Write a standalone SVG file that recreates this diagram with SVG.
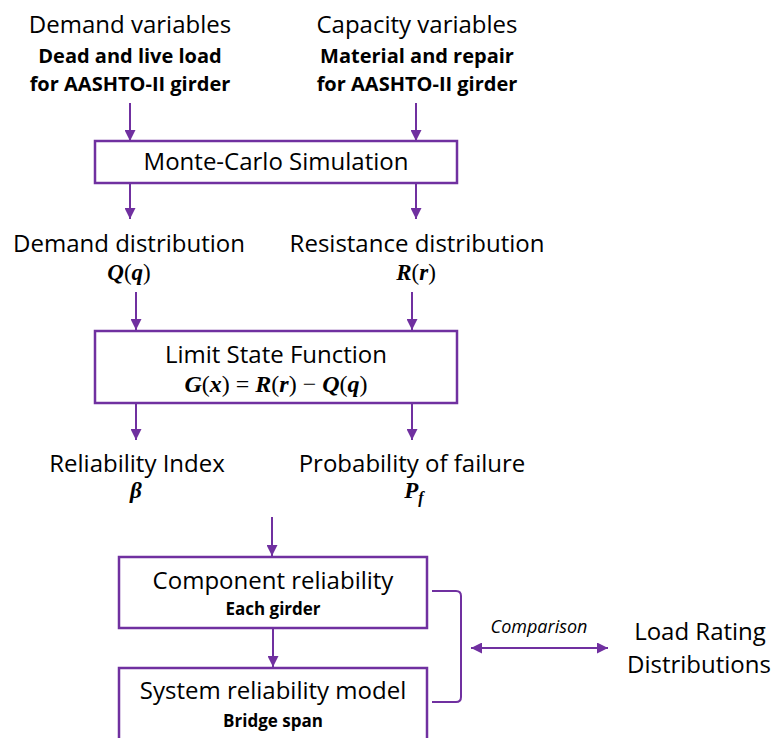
<svg xmlns="http://www.w3.org/2000/svg" width="773" height="738" viewBox="0 0 773 738">
<style>
.t{font-family:"Open Sans","Liberation Sans",sans-serif;fill:#000;text-anchor:middle}
.r{font-size:24px}
.b{font-size:20px;font-weight:bold}
.m{font-family:"Liberation Serif","DejaVu Serif",serif;font-size:23px;fill:#000;text-anchor:middle}
.mi{font-style:italic;font-weight:bold}
.box{fill:#fff;stroke:#7030A0;stroke-width:2.5}
.c{stroke:#7030A0;stroke-width:2;fill:none}
</style>
<defs>
<marker id="ah" viewBox="0 0 10 10" refX="10" refY="5" markerWidth="11" markerHeight="11" markerUnits="userSpaceOnUse" orient="auto-start-reverse">
<path d="M0,0 L10,5 L0,10 Z" fill="#7030A0"/>
</marker>
</defs>
<rect width="773" height="738" fill="#fff"/>

<g id="demand-vars">
<text class="t r" x="130" y="33">Demand variables</text>
<text class="t b" x="130" y="63">Dead and live load</text>
<text class="t b" x="130" y="91">for AASHTO-II girder</text>
</g>
<g id="capacity-vars">
<text class="t r" x="417" y="33">Capacity variables</text>
<text class="t b" x="417" y="63">Material and repair</text>
<text class="t b" x="417" y="91">for AASHTO-II girder</text>
</g>
<g id="monte-carlo">
<rect class="box" x="95" y="141" width="362" height="42"/>
<text class="t r" x="276" y="170">Monte-Carlo Simulation</text>
</g>
<g id="demand-dist">
<text class="t r" x="129" y="252">Demand distribution</text>
<text class="m" x="129" y="280"><tspan class="mi">Q</tspan>(<tspan class="mi">q</tspan>)</text>
</g>
<g id="resistance-dist">
<text class="t r" x="417" y="252">Resistance distribution</text>
<text class="m" x="416" y="280"><tspan class="mi">R</tspan>(<tspan class="mi">r</tspan>)</text>
</g>
<g id="limit-state">
<rect class="box" x="95" y="331" width="362" height="72"/>
<text class="t r" x="276" y="363">Limit State Function</text>
<text class="m" x="276" y="392" style="font-size:24px"><tspan class="mi">G</tspan>(<tspan class="mi">x</tspan>) = <tspan class="mi">R</tspan>(<tspan class="mi">r</tspan>) − <tspan class="mi">Q</tspan>(<tspan class="mi">q</tspan>)</text>
</g>
<g id="reliability-index">
<text class="t r" x="137" y="472">Reliability Index</text>
<text class="m mi" x="136" y="498">β</text>
</g>
<g id="prob-failure">
<text class="t r" x="412" y="472">Probability of failure</text>
<text class="m" x="414" y="498"><tspan class="mi">P</tspan><tspan class="mi" font-size="16" dy="5">f</tspan></text>
</g>
<g id="component">
<rect class="box" x="119" y="557" width="308" height="71"/>
<text class="t r" x="273" y="589">Component reliability</text>
<text class="t b" x="273" y="615" style="font-size:17px">Each girder</text>
</g>
<g id="system">
<rect class="box" x="119" y="668" width="308" height="80"/>
<text class="t r" x="273" y="699">System reliability model</text>
<text class="t b" x="273" y="727" style="font-size:17px">Bridge span</text>
</g>
<g id="load-rating">
<text class="t r" x="700" y="640">Load Rating</text>
<text class="t r" x="699" y="673">Distributions</text>
</g>

<g id="connectors">
<line class="c" x1="130" y1="103" x2="130" y2="141" marker-end="url(#ah)"/>
<line class="c" x1="416" y1="103" x2="416" y2="141" marker-end="url(#ah)"/>
<line class="c" x1="130" y1="183" x2="130" y2="219" marker-end="url(#ah)"/>
<line class="c" x1="416" y1="183" x2="416" y2="219" marker-end="url(#ah)"/>
<line class="c" x1="136" y1="292" x2="136" y2="330" marker-end="url(#ah)"/>
<line class="c" x1="412" y1="292" x2="412" y2="330" marker-end="url(#ah)"/>
<line class="c" x1="136" y1="403" x2="136" y2="440" marker-end="url(#ah)"/>
<line class="c" x1="412" y1="403" x2="412" y2="440" marker-end="url(#ah)"/>
<line class="c" x1="272" y1="517" x2="272" y2="556" marker-end="url(#ah)"/>
<line class="c" x1="273" y1="628" x2="273" y2="667" marker-end="url(#ah)"/>
<path class="c" d="M432,591 L456,591 Q461,591 461,596 L461,697 Q461,702 456,702 L432,702"/>
<line class="c" x1="471" y1="648" x2="608" y2="648" marker-start="url(#ah)" marker-end="url(#ah)"/>
<text x="539" y="633" style="font-family:'Open Sans','Liberation Sans',sans-serif;font-size:18px;font-style:italic;text-anchor:middle">Comparison</text>
</g>
</svg>
